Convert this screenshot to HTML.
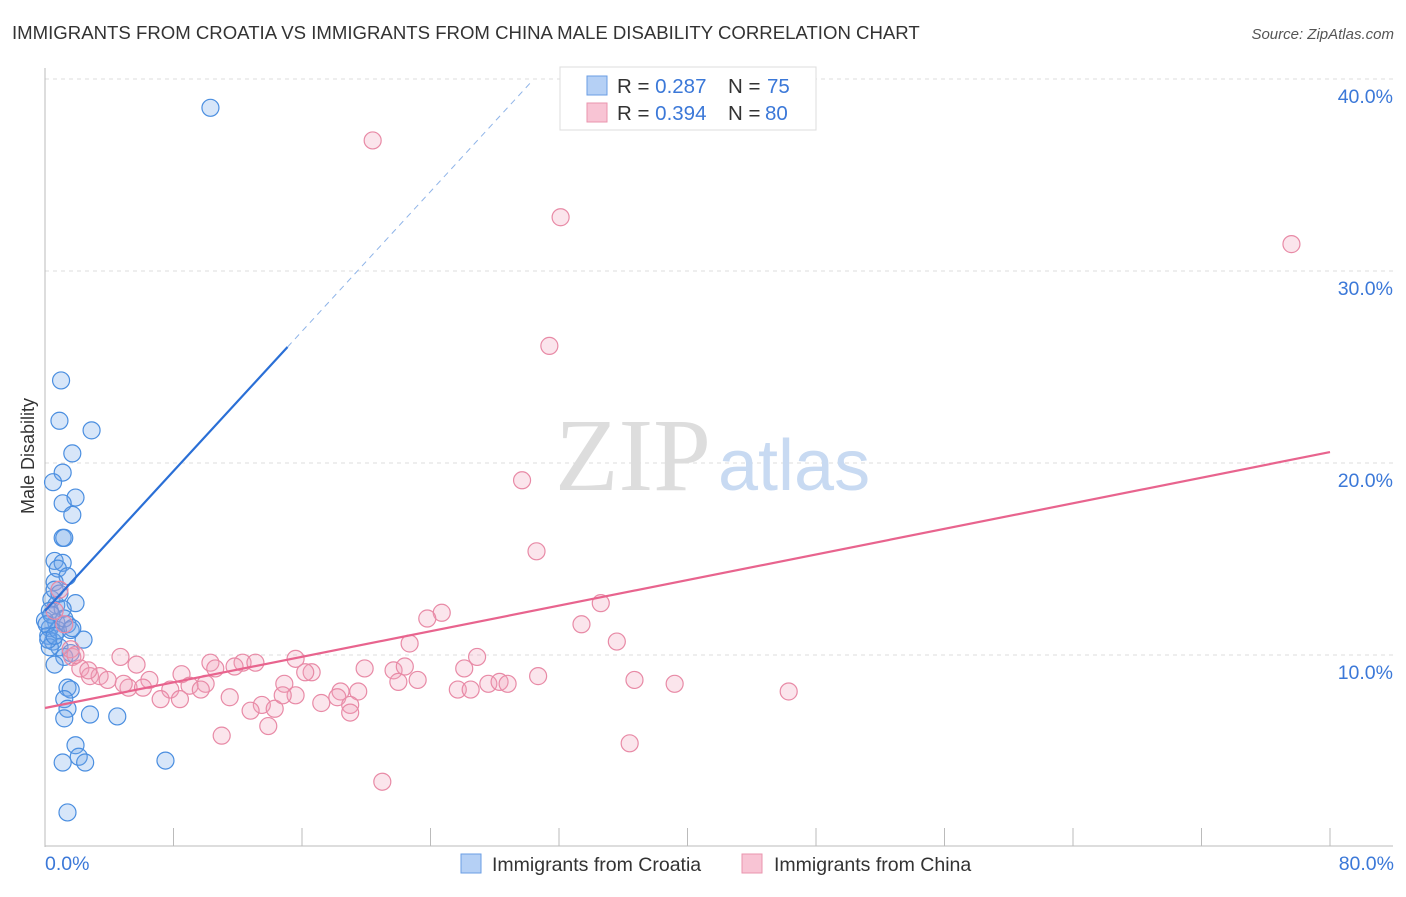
<!DOCTYPE html>
<html><head><meta charset="utf-8"><style>
body{margin:0;background:#fff;width:1406px;height:892px;overflow:hidden;font-family:"Liberation Sans",sans-serif}
</style></head><body>
<svg width="1406" height="892" xmlns="http://www.w3.org/2000/svg">
<text x="12" y="39" font-size="18.6" fill="#333">IMMIGRANTS FROM CROATIA VS IMMIGRANTS FROM CHINA MALE DISABILITY CORRELATION CHART</text>
<text x="1394" y="39" font-size="15" fill="#555" font-style="italic" text-anchor="end">Source: ZipAtlas.com</text>
<g id="grid"></g>
<g id="axes"></g>
<text x="555" y="490" font-size="104" fill="#ddd" font-family="Liberation Serif,serif">ZIP</text>
<text x="718" y="490" font-size="72" fill="#c8daf2">atlas</text>
<g id="pts"></g>
<g id="lines"></g>
<text x="34" y="456" font-size="18" fill="#333" text-anchor="middle" transform="rotate(-90 34 456)">Male Disability</text>
<text x="45" y="870" font-size="19.5" fill="#3b78d8">0.0%</text>
<text x="1394" y="870" font-size="19.5" fill="#3b78d8" text-anchor="end">80.0%</text>
<g>
<rect x="560" y="67" width="256" height="63" fill="#fff" stroke="#ddd"/>
<rect x="587" y="76" width="20" height="19" fill="#b5d0f5" stroke="#6a9ee4"/>
<rect x="587" y="103" width="20" height="19" fill="#f8c4d4" stroke="#ea94ae"/>
<text x="617" y="93" font-size="20.5" fill="#333">R = <tspan fill="#3b78d8">0.287</tspan></text>
<text x="728" y="93" font-size="20.5" fill="#333">N = <tspan x="767" fill="#3b78d8">75</tspan></text>
<text x="617" y="120" font-size="20.5" fill="#333">R = <tspan fill="#3b78d8">0.394</tspan></text>
<text x="728" y="120" font-size="20.5" fill="#333">N = <tspan x="765" fill="#3b78d8">80</tspan></text>
</g>
<g>
<rect x="461" y="854" width="20" height="19" fill="#b5d0f5" stroke="#6a9ee4"/>
<text x="492" y="871" font-size="19.5" fill="#333">Immigrants from Croatia</text>
<rect x="742" y="854" width="20" height="19" fill="#f8c4d4" stroke="#ea94ae"/>
<text x="774" y="871" font-size="19.5" fill="#333">Immigrants from China</text>
</g>
</svg>
<script>
const yTicks=[10,20,30,40];
const yTickLabels=["10.0%","20.0%","30.0%","40.0%"];
const xTicks=[0,8,16,24,32,40,48,56,64,72,80];
const croatiaX=[10.3,1.0,0.9,2.9,1.7,1.1,0.5,1.9,1.1,1.7,1.1,1.2,0.6,1.1,0.8,1.4,0.6,1.9,0.4,0.7,0.3,1.1,0.7,1.4,0.3,1.6,0.2,2.4,0.5,0.9,0.3,1.6,1.2,0.6,1.4,1.6,1.2,1.4,1.2,2.8,4.5,1.9,2.1,1.1,2.5,7.5,1.4,0.6,0.9,0.0,0.2,0.8,1.2,0.4,1.7,0.1,0.6];
const croatiaY=[38.5,24.3,22.2,21.7,20.5,19.5,19.0,18.2,17.9,17.3,16.1,16.1,14.9,14.8,14.5,14.1,13.8,12.7,12.9,12.6,12.3,12.4,11.7,11.6,11.4,11.3,11.0,10.8,10.7,10.4,10.4,10.1,9.9,9.5,8.3,8.2,7.7,7.2,6.7,6.9,6.8,5.3,4.7,4.4,4.4,4.5,1.8,13.4,13.2,11.8,10.8,11.3,11.9,12.1,11.4,11.6,11.0];
const chinaX=[20.4,32.1,77.6,31.4,29.7,30.6,34.6,24.7,23.8,33.4,35.6,22.7,4.7,1.7,5.7,10.3,15.6,12.3,26.9,2.2,2.8,3.4,3.9,5.2,6.5,8.5,10.6,11.8,13.1,16.6,19.9,21.7,22.4,26.1,30.7,36.7,39.2,46.3,9.0,10.0,4.9,6.1,7.8,8.4,7.2,9.7,11.5,14.9,15.6,16.2,18.4,18.2,19.5,19.0,17.2,13.5,12.8,14.3,14.8,22.0,23.2,25.7,26.5,27.6,28.3,28.8,19.0,11.0,13.9,21.0,36.4,0.9,0.6,1.2,1.6,1.9,2.7];
const chinaY=[36.8,32.8,31.4,26.1,19.1,15.4,12.7,12.2,11.9,11.6,10.7,10.6,9.9,9.9,9.5,9.6,9.8,9.6,9.9,9.3,8.9,8.9,8.7,8.3,8.7,9.0,9.3,9.4,9.6,9.1,9.3,9.2,9.4,9.3,8.9,8.7,8.5,8.1,8.4,8.5,8.5,8.3,8.2,7.7,7.7,8.2,7.8,8.5,7.9,9.1,8.1,7.8,8.1,7.4,7.5,7.4,7.1,7.2,7.9,8.6,8.7,8.2,8.2,8.5,8.6,8.5,7.0,5.8,6.3,3.4,5.4,13.4,12.3,11.6,10.3,10.0,9.2];
const croatiaTrend=[12.3,0.91];
const chinaTrend=[7.24,0.1666];
const NS="http://www.w3.org/2000/svg";
const X=v=>45+v/80*1285, Y=v=>847-v*19.2;
function mk(t,a,p){const e=document.createElementNS(NS,t);for(const k in a)e.setAttribute(k,a[k]);p.appendChild(e);return e;}
const grid=document.getElementById('grid'),axes=document.getElementById('axes');
yTicks.forEach((v,i)=>{
 const l=mk('line',{x1:45,x2:1393,y1:Y(v),y2:Y(v),stroke:'#ddd','stroke-dasharray':'4,4'},grid);
 
 
 const t=mk('text',{x:1393,y:Y(v)+24,'font-size':19.5,fill:'#3b78d8','text-anchor':'end'},grid);
 t.textContent=yTickLabels[i];
 
 
});
const ya=mk('line',{x1:45,x2:45,y1:68,y2:847,stroke:'#bbb'},axes);


const xa=mk('line',{x1:45,x2:1393,y1:846,y2:846,stroke:'#bbb'},axes);


xTicks.forEach(v=>{const t=mk('line',{x1:X(v),x2:X(v),y1:828,y2:846,stroke:'#bbb'},axes);
 
 });
const pts=document.getElementById('pts');
croatiaX.forEach((x,i)=>{const c=mk('circle',{cx:X(x),cy:Y(croatiaY[i]),r:8.5,fill:'rgba(110,165,235,0.28)',stroke:'#4a8ee0','stroke-width':1.2},pts);
 
 });
chinaX.forEach((x,i)=>{const c=mk('circle',{cx:X(x),cy:Y(chinaY[i]),r:8.5,fill:'rgba(242,160,188,0.28)',stroke:'#e88aa6','stroke-width':1.2},pts);
 
 });
const lines=document.getElementById('lines');
const f=(t,x)=>t[0]+t[1]*x;
const b1=mk('line',{x1:X(0),y1:Y(f(croatiaTrend,0)),x2:X(15.1),y2:Y(f(croatiaTrend,15.1)),stroke:'#2a6fd6','stroke-width':2.2},lines);


const yTop=(847-80)/19.2;
const xe=(yTop-croatiaTrend[0])/croatiaTrend[1];
const b2=mk('line',{x1:X(15.1),y1:Y(f(croatiaTrend,15.1)),x2:X(xe),y2:Y(yTop),stroke:'#8fb4e8','stroke-width':1,'stroke-dasharray':'6,5'},lines);


const p1=mk('line',{x1:X(0),y1:Y(f(chinaTrend,0)),x2:X(80),y2:Y(f(chinaTrend,80)),stroke:'#e8648e','stroke-width':2.2},lines);


</script>
</body></html>
